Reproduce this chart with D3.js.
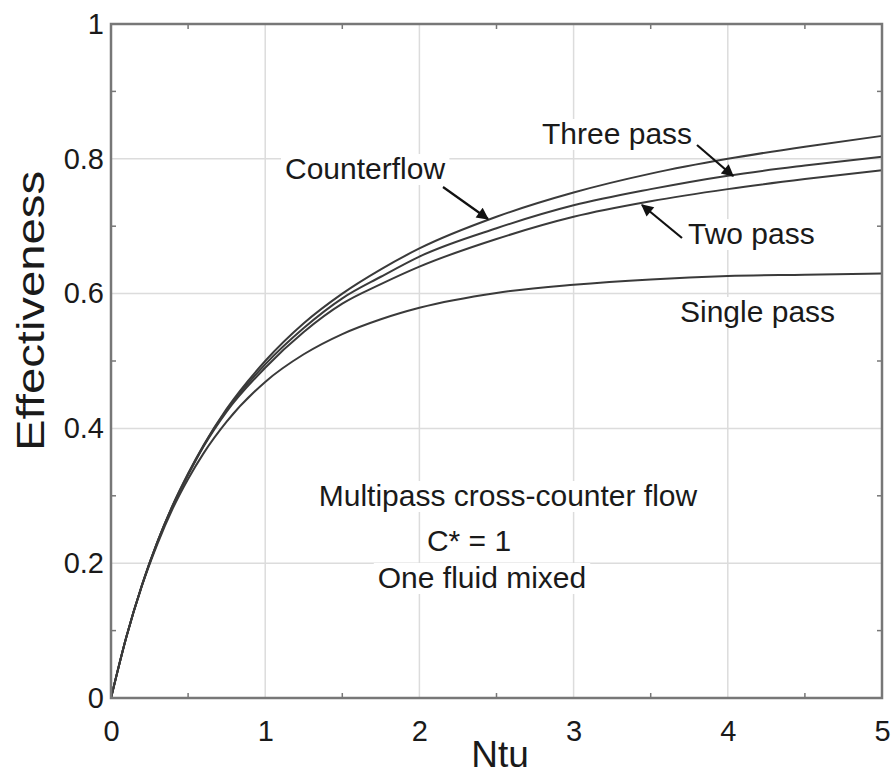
<!DOCTYPE html>
<html>
<head>
<meta charset="utf-8">
<script src="https://cdn.jsdelivr.net/npm/d3@7"></script>
<style>
  body { margin: 0; background: #fff; }
  text { font-family: "Liberation Sans", Arial, sans-serif; fill: #1a1a1a; }
</style>
</head>
<body>
<div id="chart"></div>
<script>
// values
const ntu = [0, 0.1, 0.2, 0.3, 0.4, 0.5, 0.6, 0.75, 1, 1.25, 1.5, 1.75, 2, 2.5, 3, 3.5, 4, 4.5, 5];
const counterflow = [0, 0.091, 0.167, 0.231, 0.286, 0.333, 0.375, 0.429, 0.500, 0.556, 0.600, 0.636, 0.667, 0.714, 0.750, 0.778, 0.800, 0.818, 0.834];
const threePass = [0, 0.091, 0.167, 0.231, 0.285, 0.332, 0.374, 0.427, 0.495, 0.549, 0.593, 0.625, 0.655, 0.697, 0.731, 0.755, 0.775, 0.790, 0.803];
const twoPass = [0, 0.091, 0.167, 0.231, 0.285, 0.331, 0.373, 0.425, 0.490, 0.543, 0.585, 0.614, 0.640, 0.681, 0.714, 0.737, 0.755, 0.770, 0.783];
const singlePass = [0, 0.091, 0.166, 0.228, 0.281, 0.325, 0.363, 0.410, 0.469, 0.510, 0.540, 0.562, 0.579, 0.601, 0.613, 0.621, 0.626, 0.628, 0.630];

const xTicks = [0, 1, 2, 3, 4, 5];
const yTicks = [0, 0.2, 0.4, 0.6, 0.8, 1];
const xMinor = [0.5, 1.5, 2.5, 3.5, 4.5];
const yMinor = [0.1, 0.3, 0.5, 0.7, 0.9];

const series = [
    { name: 'Counterflow', values: counterflow },
    { name: 'Three pass', values: threePass },
    { name: 'Two pass', values: twoPass },
    { name: 'Single pass', values: singlePass }
];

const W = 891, H = 778;
const margin = { top: 24, right: 9, bottom: 80, left: 111 };
const width = W - margin.left - margin.right;
const height = H - margin.top - margin.bottom;

const svg = d3.select('#chart').append('svg')
    .attr('width', W).attr('height', H);

const defs = svg.append('defs');
defs.append('marker')
    .attr('id', 'arrow')
    .attr('viewBox', '0 0 10 10')
    .attr('refX', 9).attr('refY', 5)
    .attr('markerWidth', 6.5).attr('markerHeight', 5.5)
    .attr('orient', 'auto')
    .append('path')
    .attr('d', 'M0,0 L10,5 L0,10 Z')
    .attr('fill', '#111');

const g = svg.append('g')
    .attr('transform', `translate(${margin.left},${margin.top})`);

const x = d3.scaleLinear().domain([0, 5]).range([0, width]);
const y = d3.scaleLinear().domain([0, 1]).range([height, 0]);

// grid
g.append('g').selectAll('line').data(xTicks.slice(1, -1)).enter().append('line')
    .attr('x1', d => x(d)).attr('x2', d => x(d))
    .attr('y1', 0).attr('y2', height)
    .attr('stroke', '#dcdcdc').attr('stroke-width', 1.5);
g.append('g').selectAll('line').data(yTicks.slice(1, -1)).enter().append('line')
    .attr('y1', d => y(d)).attr('y2', d => y(d))
    .attr('x1', 0).attr('x2', width)
    .attr('stroke', '#dcdcdc').attr('stroke-width', 1.5);

// annotation labels (with white background that hides grid)
const labels = g.append('g');
function label(txt, px, py, anchor, size) {
    const t = labels.append('text')
        .attr('x', px).attr('y', py)
        .attr('text-anchor', anchor || 'start')
        .style('font-size', (size || 30) + 'px')
        .text(txt);
    const b = t.node().getBBox();
    labels.insert('rect', 'text')
        .attr('x', b.x - 4).attr('y', b.y + 2)
        .attr('width', b.width + 8).attr('height', b.height - 2)
        .attr('fill', '#fff');
    return t;
}
label('Counterflow', 285 - margin.left, 179 - margin.top);
label('Three pass', 542 - margin.left, 144 - margin.top);
label('Two pass', 688 - margin.left, 244 - margin.top);
label('Single pass', 680 - margin.left, 322 - margin.top);
label('Multipass cross-counter flow', 508 - margin.left, 506 - margin.top, 'middle');
label('C* = 1', 469 - margin.left, 551 - margin.top, 'middle');
label('One fluid mixed', 482 - margin.left, 588 - margin.top, 'middle');

// curves
const line = d3.line()
    .x((d, i) => x(ntu[i]))
    .y(d => y(d))
    .curve(d3.curveMonotoneX);
g.append('g').selectAll('path').data(series).enter().append('path')
    .attr('d', d => line(d.values))
    .attr('fill', 'none')
    .attr('stroke', '#3a3a3a')
    .attr('stroke-width', 2);

// arrows (from label to curve)
const arrows = [
    { from: [443, 187], to: [488, 219] },
    { from: [697, 145], to: [733, 176] },
    { from: [682, 238], to: [642, 205] }
];
g.append('g').selectAll('line').data(arrows).enter().append('line')
    .attr('x1', d => d.from[0] - margin.left).attr('y1', d => d.from[1] - margin.top)
    .attr('x2', d => d.to[0] - margin.left).attr('y2', d => d.to[1] - margin.top)
    .attr('stroke', '#111').attr('stroke-width', 2.2)
    .attr('marker-end', 'url(#arrow)');

// minor ticks (inside, all four sides)
const tk = g.append('g').attr('stroke', '#777').attr('stroke-width', 1.5);
xMinor.forEach(v => {
    tk.append('line').attr('x1', x(v)).attr('x2', x(v)).attr('y1', height).attr('y2', height - 5);
    tk.append('line').attr('x1', x(v)).attr('x2', x(v)).attr('y1', 0).attr('y2', 5);
});
yMinor.forEach(v => {
    tk.append('line').attr('y1', y(v)).attr('y2', y(v)).attr('x1', 0).attr('x2', 5);
    tk.append('line').attr('y1', y(v)).attr('y2', y(v)).attr('x1', width).attr('x2', width - 5);
});

// frame
g.append('rect')
    .attr('width', width).attr('height', height)
    .attr('fill', 'none').attr('stroke', '#777').attr('stroke-width', 2.5);

// axes labels via d3 axes
const xAxis = g.append('g')
    .attr('transform', `translate(0,${height})`)
    .call(d3.axisBottom(x).tickValues(xTicks).tickFormat(d3.format('')).tickSize(0).tickPadding(22));
const yAxis = g.append('g')
    .call(d3.axisLeft(y).tickValues(yTicks).tickFormat(d3.format('')).tickSize(0).tickPadding(7));
[xAxis, yAxis].forEach(a => {
    a.select('.domain').remove();
    a.selectAll('text')
        .style('font-size', '29px')
        .style('font-family', '"Liberation Sans", Arial, sans-serif')
        .attr('fill', '#1a1a1a');
});

svg.append('text')
    .attr('x', 500).attr('y', 767)
    .attr('text-anchor', 'middle')
    .style('font-size', '37px')
    .text('Ntu');

svg.append('text')
    .attr('transform', 'translate(44,311) rotate(-90)')
    .attr('text-anchor', 'middle')
    .attr('textLength', 280)
    .attr('lengthAdjust', 'spacingAndGlyphs')
    .style('font-size', '38px')
    .text('Effectiveness');
</script>
</body>
</html>
